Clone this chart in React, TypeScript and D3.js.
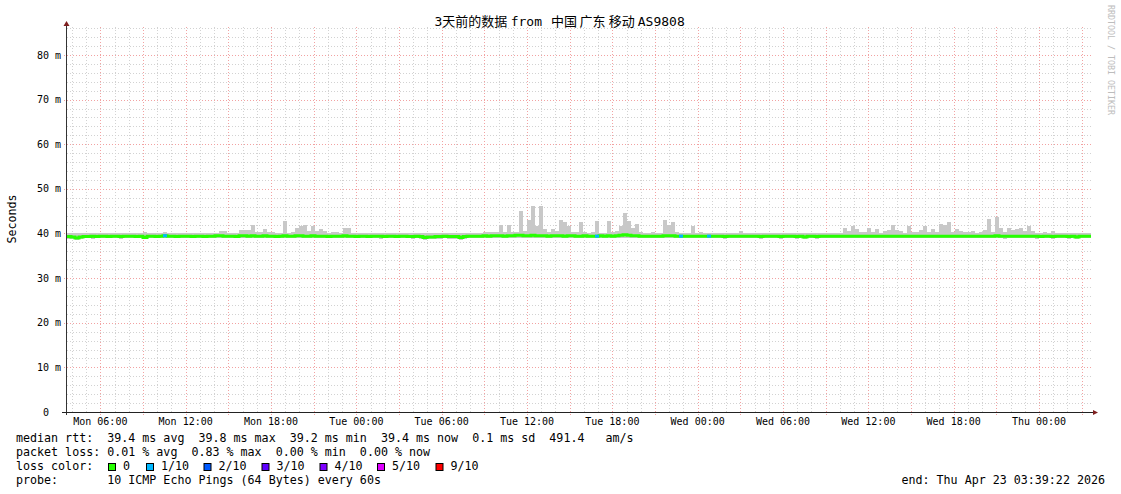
import React from 'react';
import * as d3 from 'd3';

const W = 1121;
const H = 494;

const startTime = new Date(2026, 3, 20, 3, 39, 22);
const endTime = new Date(2026, 3, 23, 3, 39, 22);

// title pieces with their left edges (the spacing in the original is uneven)
const titleParts = ['3天前的数据', 'from', '中国', '广东', '移动', 'AS9808'];
const titleStarts = [434.5, 510.7, 551, 579.5, 608.7, 637.8];
const yTicks = [0, 10, 20, 30, 40, 50, 60, 70, 80];

// median rtt per step (256 steps over 72h), ms
const median = [
  39.3, 39.2, 39.0, 39.2, 39.3, 39.3, 39.4, 39.3, 39.4, 39.4, 39.3, 39.4, 39.4, 39.3, 39.4, 39.4,
  39.4, 39.3, 39.4, 39.1, 39.4, 39.4, 39.3, 39.4, 39.5, 39.4, 39.4, 39.3, 39.4, 39.4, 39.4, 39.3,
  39.4, 39.4, 39.3, 39.4, 39.4, 39.5, 39.5, 39.4, 39.4, 39.4, 39.3, 39.5, 39.5, 39.4, 39.5, 39.4,
  39.4, 39.5, 39.4, 39.4, 39.3, 39.4, 39.5, 39.4, 39.4, 39.5, 39.5, 39.4, 39.4, 39.5, 39.4, 39.4,
  39.4, 39.3, 39.4, 39.4, 39.4, 39.5, 39.4, 39.4, 39.3, 39.4, 39.4, 39.3, 39.4, 39.4, 39.4, 39.3,
  39.4, 39.4, 39.3, 39.4, 39.4, 39.3, 39.3, 39.4, 39.3, 39.1, 39.2, 39.2, 39.3, 39.3, 39.4, 39.3,
  39.3, 39.3, 39.1, 39.3, 39.4, 39.4, 39.4, 39.4, 39.5, 39.4, 39.5, 39.5, 39.5, 39.4, 39.5, 39.5,
  39.6, 39.6, 39.5, 39.5, 39.6, 39.5, 39.5, 39.5, 39.4, 39.5, 39.5, 39.5, 39.4, 39.5, 39.5, 39.4,
  39.4, 39.5, 39.4, 39.4, 39.4, 39.5, 39.4, 39.5, 39.4, 39.5, 39.6, 39.7, 39.6, 39.5, 39.5, 39.4,
  39.4, 39.4, 39.4, 39.4, 39.4, 39.5, 39.5, 39.5, 39.4, 39.4, 39.4, 39.4, 39.4, 39.4, 39.4, 39.4,
  39.4, 39.4, 39.4, 39.4, 39.3, 39.4, 39.4, 39.4, 39.4, 39.4, 39.4, 39.4, 39.4, 39.3, 39.4, 39.4,
  39.4, 39.4, 39.3, 39.4, 39.4, 39.4, 39.3, 39.4, 39.2, 39.4, 39.4, 39.3, 39.4, 39.4, 39.4, 39.4,
  39.4, 39.4, 39.4, 39.4, 39.4, 39.4, 39.4, 39.4, 39.4, 39.4, 39.4, 39.4, 39.4, 39.4, 39.4, 39.4,
  39.4, 39.4, 39.4, 39.4, 39.4, 39.4, 39.4, 39.4, 39.4, 39.4, 39.4, 39.4, 39.4, 39.4, 39.4, 39.4,
  39.4, 39.4, 39.4, 39.4, 39.4, 39.4, 39.4, 39.4, 39.5, 39.4, 39.4, 39.4, 39.4, 39.4, 39.4, 39.4,
  39.4, 39.4, 39.4, 39.3, 39.4, 39.4, 39.3, 39.4, 39.4, 39.4, 39.3, 39.4, 39.2, 39.4, 39.4, 39.4,
];

// lowest ping per step
const smokeMin = [
  38.8, 38.7, 38.6, 38.8, 38.9, 38.9, 38.8, 38.9, 38.9, 39.0, 38.9, 38.9, 38.9, 38.8, 39.0, 39.0,
  38.9, 38.9, 39.0, 38.7, 38.9, 39.0, 38.9, 39.0, 38.9, 39.0, 39.0, 38.9, 39.0, 38.9, 39.0, 38.9,
  39.0, 39.0, 38.9, 39.0, 39.0, 39.0, 39.0, 38.9, 39.0, 39.0, 38.9, 39.0, 39.0, 38.9, 39.0, 38.9,
  39.0, 39.0, 38.9, 39.0, 38.9, 39.0, 39.0, 38.9, 38.9, 39.0, 39.0, 38.9, 39.0, 39.0, 38.9, 39.0,
  39.0, 38.9, 39.0, 39.0, 38.9, 39.0, 38.9, 38.9, 38.9, 39.0, 38.9, 38.9, 38.9, 38.9, 38.8, 38.9,
  39.0, 38.9, 38.9, 39.0, 39.0, 38.9, 38.8, 38.9, 38.8, 38.6, 38.7, 38.7, 38.8, 38.8, 38.9, 38.8,
  38.8, 38.8, 38.6, 38.8, 38.9, 39.0, 38.9, 39.0, 39.0, 38.9, 39.0, 39.0, 39.0, 38.9, 39.0, 39.0,
  39.1, 39.0, 39.0, 39.0, 39.1, 39.0, 39.0, 39.0, 38.9, 39.0, 39.0, 39.0, 38.9, 39.0, 39.0, 38.9,
  38.9, 39.0, 38.9, 38.9, 38.9, 39.0, 38.9, 38.9, 38.9, 39.0, 39.0, 39.1, 39.0, 39.0, 38.9, 38.9,
  38.9, 38.9, 39.0, 38.9, 38.9, 39.0, 39.0, 38.9, 38.9, 38.9, 39.0, 38.9, 38.9, 38.9, 39.0, 38.9,
  38.9, 39.0, 38.9, 39.0, 38.8, 38.9, 39.0, 38.9, 38.9, 39.0, 38.9, 38.9, 39.0, 38.8, 38.9, 39.0,
  38.9, 39.0, 38.8, 38.9, 39.0, 38.9, 38.8, 38.9, 38.7, 38.9, 39.0, 38.8, 38.9, 39.0, 38.9, 39.0,
  38.9, 39.0, 38.9, 39.0, 38.9, 39.0, 38.9, 38.9, 39.0, 38.9, 38.9, 39.0, 38.9, 38.9, 39.0, 38.9,
  39.0, 38.9, 38.9, 39.0, 38.9, 38.9, 39.0, 38.9, 39.0, 38.9, 38.9, 38.9, 39.0, 38.9, 38.9, 39.0,
  38.9, 38.9, 39.0, 38.9, 38.9, 39.0, 38.9, 38.9, 38.9, 39.0, 38.8, 38.9, 38.9, 39.0, 38.9, 38.9,
  39.0, 38.9, 38.8, 38.9, 39.0, 38.9, 38.8, 38.9, 39.0, 38.9, 38.8, 38.9, 38.7, 38.9, 39.0, 38.9,
];

// highest ping per step
const smokeMax = [
  40.1, 40.0, 40.1, 40.1, 40.0, 40.1, 40.2, 40.1, 40.2, 40.1, 40.0, 40.1, 40.1, 40.0, 40.2, 40.1,
  40.1, 40.0, 40.1, 40.4, 40.1, 40.0, 40.1, 40.1, 40.4, 40.2, 40.1, 40.0, 40.1, 40.1, 40.0, 40.1,
  40.1, 40.0, 40.1, 40.1, 40.2, 40.1, 40.5, 40.5, 40.2, 40.2, 40.2, 40.8, 40.8, 40.8, 41.9, 40.3,
  40.3, 41.0, 40.3, 40.4, 40.2, 40.2, 42.8, 40.2, 40.3, 41.2, 41.7, 41.9, 40.5, 41.7, 40.6, 41.0,
  40.6, 40.1, 40.3, 40.3, 40.2, 41.2, 41.2, 40.2, 40.1, 40.0, 40.1, 40.2, 40.1, 40.1, 40.0, 40.1,
  40.2, 40.1, 40.0, 40.1, 40.0, 40.1, 40.1, 40.0, 40.1, 40.0, 40.1, 40.1, 40.0, 40.1, 40.0, 40.1,
  40.1, 40.0, 40.1, 40.1, 40.2, 40.1, 40.1, 40.2, 40.3, 40.3, 40.3, 40.3, 41.9, 40.4, 41.9, 40.3,
  40.3, 45.0, 40.6, 43.0, 46.2, 41.7, 46.2, 41.0, 40.3, 41.0, 40.5, 43.0, 42.6, 41.6, 40.3, 40.4,
  42.5, 40.4, 40.2, 40.4, 42.8, 40.2, 40.2, 42.8, 40.3, 40.5, 41.7, 44.5, 42.9, 41.2, 42.2, 40.3,
  40.2, 40.2, 40.4, 40.2, 40.2, 43.0, 41.9, 42.6, 40.4, 40.2, 40.2, 40.2, 41.7, 40.2, 40.4, 40.1,
  40.1, 40.1, 40.1, 40.1, 40.1, 40.1, 40.1, 40.1, 40.5, 40.1, 40.1, 40.1, 40.0, 40.1, 40.1, 40.0,
  40.1, 40.1, 40.0, 40.1, 40.1, 40.0, 40.1, 40.1, 40.0, 40.1, 40.1, 40.1, 40.0, 40.1, 40.2, 40.1,
  40.1, 40.2, 41.2, 40.5, 41.6, 40.9, 40.3, 40.3, 41.2, 40.3, 41.0, 40.2, 40.5, 40.8, 41.9, 40.8,
  40.5, 40.2, 41.6, 40.3, 40.3, 40.8, 41.6, 40.4, 41.0, 40.3, 42.2, 41.9, 42.6, 40.4, 41.0, 40.5,
  40.3, 40.3, 40.5, 40.2, 40.4, 40.8, 43.3, 40.3, 43.8, 41.2, 40.4, 41.2, 40.8, 41.0, 41.2, 40.5,
  41.6, 40.6, 40.2, 40.2, 40.4, 40.2, 40.5, 40.1, 40.1, 40.1, 40.1, 40.1, 40.1, 40.1, 40.1, 40.1,
];

// steps with packet loss (lost pings out of 10)
const lossSteps = [24, 132, 153, 160];
const lossCounts = [1, 1, 1, 1];

const lossLegend = ['0', '1/10', '2/10', '3/10', '4/10', '5/10', '9/10'];
const lossColors = ['#26ff00', '#00b8ff', '#0059ff', '#5e00ff', '#7e00ff', '#dd00ff', '#ff0000'];

const legendLines = [
  'median rtt:  39.4 ms avg  39.8 ms max  39.2 ms min  39.4 ms now  0.1 ms sd  491.4   am/s',
  'packet loss: 0.01 % avg  0.83 % max  0.00 % min  0.00 % now',
  'loss color:',
  'probe:       10 ICMP Echo Pings (64 Bytes) every 60s',
];
const endLabel = 'end: Thu Apr 23 03:39:22 2026';

const MONO = '"DejaVu Sans Mono", "Noto Sans CJK SC", monospace';

const App: React.FC = () => {
  const left = 67;
  const right = 1091;
  const top = 27;
  const bottom = 412;

  const x = d3.scaleTime().domain([startTime, endTime]).range([left, right]);
  const y = d3.scaleLinear().domain([0, 86.27]).range([bottom, top]);

  const n = median.length;
  const stepMs = (endTime.getTime() - startTime.getTime()) / n;
  const tAt = (i: number) => new Date(startTime.getTime() + i * stepMs);

  const hours = d3.timeHour.range(startTime, endTime);
  const majorHours = hours.filter((h) => h.getHours() % 3 === 0);
  const labelHours = hours.filter((h) => h.getHours() % 6 === 0);
  const fmt = d3.timeFormat('%a %H:%M');

  const minorY = d3.range(2, 87, 2);
  const px = (v: number) => Math.round(v) + 0.5;

  const medianLine = d3
    .line<number>()
    .x((_, i) => x(tAt(i)))
    .y((d) => y(d))
    .curve(d3.curveStepAfter);
  const medianPath = medianLine([...median, median[n - 1]]);

  const legendX = 16;
  const swatchX = [108, 146, 203.5, 261.5, 319.5, 377, 435.5];

  return (
    <svg
      width={W}
      height={H}
      viewBox={`0 0 ${W} ${H}`}
      style={{ position: 'absolute', left: 0, top: 0, background: '#fff' }}
    >
      <rect x={0} y={0} width={W} height={H} fill="#fff" />

      {/* grid */}
      <g>
        {hours.map((h, i) => (
          <line key={`vm${i}`} x1={px(x(h))} x2={px(x(h))} y1={bottom} y2={top} stroke="#d2d2d2" strokeDasharray="1,2" />
        ))}
        {minorY.map((v) => (
          <line key={`hm${v}`} x1={left} x2={right} y1={px(y(v))} y2={px(y(v))} stroke="#d2d2d2" strokeDasharray="1,2" />
        ))}
        {majorHours.map((h, i) => (
          <line key={`vM${i}`} x1={px(x(h))} x2={px(x(h))} y1={bottom + 3} y2={top} stroke="#f2a2a2" strokeDasharray="1,2" />
        ))}
        {yTicks.slice(1).map((v) => (
          <line key={`hM${v}`} x1={left - 3} x2={right} y1={px(y(v))} y2={px(y(v))} stroke="#f2a2a2" strokeDasharray="1,2" />
        ))}
      </g>

      {/* smoke */}
      <g shapeRendering="crispEdges">
        {smokeMax.map((mx, i) => (
          <rect
            key={`s${i}`}
            x={x(tAt(i))}
            width={x(tAt(i + 1)) - x(tAt(i))}
            y={y(mx)}
            height={y(smokeMin[i]) - y(mx)}
            fill="#c8c8c8"
          />
        ))}
      </g>

      {/* median */}
      <path d={medianPath || ''} fill="none" stroke={lossColors[0]} strokeWidth={3} />
      {lossSteps.map((s, k) => (
        <line
          key={`l${k}`}
          x1={x(tAt(s))}
          x2={x(tAt(s + 1))}
          y1={y(median[s])}
          y2={y(median[s])}
          stroke={lossColors[lossCounts[k]]}
          strokeWidth={3}
        />
      ))}

      {/* axes */}
      <g shapeRendering="crispEdges">
        <line x1={left - 0.5} x2={left - 0.5} y1={bottom + 3} y2={top - 2} stroke="#333" />
        <line x1={left - 5} x2={right + 2} y1={bottom + 0.5} y2={bottom + 0.5} stroke="#222" />
      </g>
      <path d={`M${left - 3.5},${top - 1} L${left + 2.5},${top - 1} L${left - 0.5},${top - 6} Z`} fill="#7f1f1f" />
      <path d={`M${right + 2},${bottom - 2} L${right + 2},${bottom + 3} L${right + 7},${bottom + 0.5} Z`} fill="#7f1f1f" />

      {/* y labels */}
      <g fontFamily={MONO} fontSize={10} fill="#000">
        {yTicks.map((v) =>
          v === 0 ? (
            <text key={v} x={49} y={y(v) + 3.6} textAnchor="end">0</text>
          ) : (
            <text key={v} x={61} y={y(v) + 3.6} textAnchor="end">{`${v} m`}</text>
          )
        )}
      </g>

      {/* x labels */}
      <g fontFamily={MONO} fontSize={10} fill="#000">
        {labelHours.map((h, i) => (
          <text key={i} x={x(h)} y={425} textAnchor="middle">{fmt(h)}</text>
        ))}
      </g>

      {/* title */}
      <text y={26} fontFamily={MONO} fontSize={13} fill="#000">
        {titleParts.map((t, i) => (
          <tspan key={i} x={titleStarts[i]}>{t}</tspan>
        ))}
      </text>

      {/* vertical label */}
      <text
        transform="translate(16,219) rotate(-90)"
        textAnchor="middle"
        fontFamily={MONO}
        fontSize={11.66}
        fill="#000"
      >
        Seconds
      </text>

      {/* watermark */}
      <text transform="translate(1108,5) rotate(90)" fontFamily={MONO} fontSize={8.3} fill="#bdbdbd">
        RRDTOOL / TOBI OETIKER
      </text>

      {/* legend */}
      <g fontFamily={MONO} fontSize={11.66} fill="#000">
        {legendLines.map((t, i) => (
          <text key={i} x={legendX} y={442 + i * 14} xmlSpace="preserve" style={{ whiteSpace: 'pre' }}>
            {t}
          </text>
        ))}
        {lossLegend.map((lab, i) => (
          <g key={lab}>
            <rect x={swatchX[i] + 0.5} y={463.5} width={7} height={7} fill={lossColors[i]} stroke="#000" strokeWidth={1} />
            <text x={swatchX[i] + 15} y={470}>{lab}</text>
          </g>
        ))}
        <text x={1105} y={484} textAnchor="end">{endLabel}</text>
      </g>
    </svg>
  );
};

export default App;
